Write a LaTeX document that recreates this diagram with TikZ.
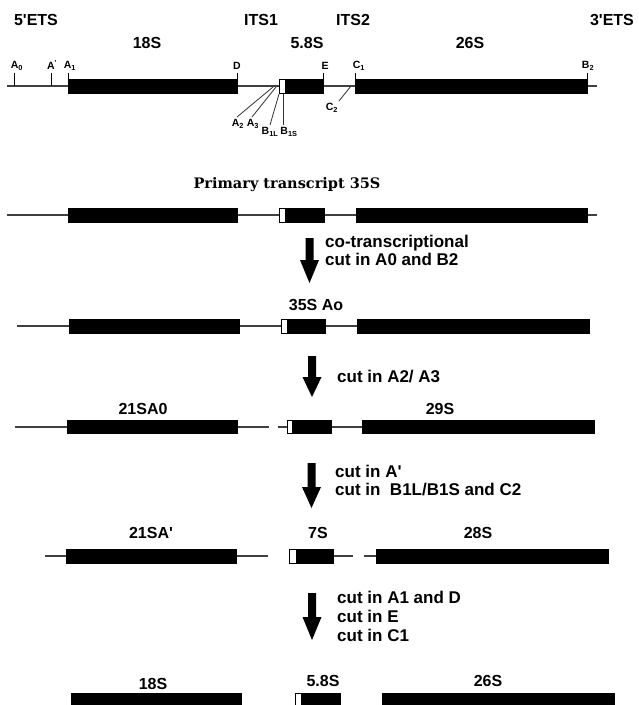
\documentclass[tikz,border=0pt]{standalone}
\usepackage{fontspec}
\setmainfont{Liberation Sans}[Ligatures=TeXOff]
\newfontfamily\titlefont{DejaVu Serif}
\newcommand{\sq}{\char"0027\relax}
\begin{document}
\begin{tikzpicture}[x=1pt,y=-1pt,
  thinline/.style={draw=black!75, line width=1.1pt},
  tickline/.style={draw=black, line width=0.9pt},
  cutline/.style={draw=black!80, line width=0.8pt},
  blk/.style={fill=black, draw=black, line width=0.6pt},
  wht/.style={fill=white, draw=black, line width=0.6pt},
  lbl/.style={font=\fontsize{16}{18}\selectfont\bfseries, inner sep=0pt},
  side/.style={font=\fontsize{17}{18}\selectfont\bfseries, align=left, anchor=west, inner sep=0pt},
  site/.style={font=\fontsize{10.5}{11}\selectfont\bfseries, inner sep=0pt},
  bigarrow/.style={fill=black}]
\useasboundingbox (0,0) rectangle (638,705);
\clip (0,0) rectangle (638,705);

% ---------- top map ----------
\node[lbl] (ets5) at (36,20) {5\sq ETS};
\node[lbl] (its1) at (261,20) {ITS1};
\node[lbl] (its2) at (353,20) {ITS2};
\node[lbl] (ets3) at (612,20) {3\sq ETS};
\node[lbl] (l18) at (147,43) {18S};
\node[lbl] (l58) at (307,43) {5.8S};
\node[lbl] (l26) at (470,43) {26S};

\draw[thinline] (7,86) -- (597,86);
\draw[blk] (68,79) rectangle (237,93);
\draw[wht] (279,79) rectangle (285,93);
\draw[blk] (285,79) rectangle (323,93);
\draw[blk] (355,79) rectangle (587,93);

\draw[tickline] (14,73) -- (14,86);
\draw[tickline] (51,73) -- (51,86);
\draw[tickline] (68,73) -- (68,79);
\draw[tickline] (237,73) -- (237,79);
\draw[tickline] (323,73) -- (323,79);
\draw[tickline] (355,73) -- (355,79);
\draw[tickline] (587,73) -- (587,79);

\node[site] (sA0) at (17,66) {A\textsubscript{0}};
\node[site] (sAp) at (52,65) {A\textsuperscript{\sq}};
\node[site] (sA1) at (70,66) {A\textsubscript{1}};
\node[site] (sD) at (237,66) {D};
\node[site] (sE) at (325,66) {E};
\node[site] (sC1) at (359,66) {C\textsubscript{1}};
\node[site] (sB2) at (588,66) {B\textsubscript{2}};

\node[site] (sA2) at (238,124) {A\textsubscript{2}};
\node[site] (sA3) at (253,124) {A\textsubscript{3}};
\node[site] (sB1L) at (270,132) {B\textsubscript{1L}};
\node[site] (sB1S) at (289,132) {B\textsubscript{1S}};
\node[site] (sC2) at (332,108) {C\textsubscript{2}};

\coordinate (pA2) at (273,87);
\coordinate (pA3) at (276,87);
\coordinate (pB1L) at (279,94);
\coordinate (pB1S) at (283,94);
\coordinate (pC2) at (351,86);
\draw[cutline] (pA2) -- (237,117);
\draw[cutline] (pA3) -- (252,117);
\draw[cutline] (pB1L) -- (270,125);
\draw[cutline] (pB1S) -- (283,125);
\draw[cutline] (pC2) -- (339,101);

% ---------- primary transcript ----------
\node[font=\titlefont\fontsize{14.5}{16}\selectfont\bfseries, inner sep=0pt] (title) at (287,185) {Primary transcript 35S};
\draw[thinline] (7,215) -- (597,215);
\draw[blk] (68,208) rectangle (237,222);
\draw[wht] (279,208) rectangle (285,222);
\draw[blk] (285,208) rectangle (324,222);
\draw[blk] (356,208) rectangle (587,222);

\fill[bigarrow] (305.5,238) -- (313.5,238) -- (313.5,260) -- (319,260) -- (309.5,283) -- (300,260) -- (305.5,260) -- cycle;
\node[side] (t1) at (325,250.5) {co-transcriptional\\cut in A0 and B2};

% ---------- 35S A0 ----------
\node[lbl] (r3) at (316,305) {35S Ao};
\draw[thinline] (17,326) -- (589,326);
\draw[blk] (69,319) rectangle (239,333);
\draw[wht] (281,319) rectangle (287,333);
\draw[blk] (287,319) rectangle (325,333);
\draw[blk] (357,319) rectangle (589,333);

\fill[bigarrow] (308,356) -- (316,356) -- (316,377) -- (321.5,377) -- (312,397) -- (302.5,377) -- (308,377) -- cycle;
\node[side] (t2) at (337,377) {cut in A2/ A3};

% ---------- 21SA0 / 29S ----------
\node[lbl] (r4a) at (143,409) {21SA0};
\node[lbl] (r4b) at (440,409) {29S};
\draw[thinline] (15,427) -- (269,427);
\draw[blk] (67,420) rectangle (237,433);
\draw[thinline] (278,427) -- (362,427);
\draw[wht] (287,420) rectangle (292,433);
\draw[blk] (292,420) rectangle (331,433);
\draw[blk] (362,420) rectangle (594,433);

\fill[bigarrow] (307.5,463) -- (315.5,463) -- (315.5,487) -- (321,487) -- (311.5,508) -- (302,487) -- (307.5,487) -- cycle;
\node[side] (t3) at (335,480.5) {cut in A\sq\\cut in\ \ B1L/B1S and C2};

% ---------- 21SA' / 7S / 28S ----------
\node[lbl] (r5a) at (151,533) {21SA\sq};
\node[lbl] (r5b) at (318,533) {7S};
\node[lbl] (r5c) at (478,533) {28S};
\draw[thinline] (45,556) -- (268,556);
\draw[blk] (66,549) rectangle (236,563);
\draw[thinline] (292,556) -- (353,556);
\draw[wht] (289,549) rectangle (296,563);
\draw[blk] (296,549) rectangle (333,563);
\draw[thinline] (364,556) -- (376,556);
\draw[blk] (376,549) rectangle (608,563);

\fill[bigarrow] (308,593) -- (316,593) -- (316,617) -- (321.5,617) -- (312,640) -- (302.5,617) -- (308,617) -- cycle;
\node[side, font=\fontsize{17}{19}\selectfont\bfseries] (t4) at (337,616) {cut in A1 and D\\cut in E\\cut in C1};

% ---------- mature ----------
\node[lbl] (r6a) at (153,684) {18S};
\node[lbl] (r6b) at (323,681) {5.8S};
\node[lbl] (r6c) at (488,681) {26S};
\draw[blk] (71,693) rectangle (241,708);
\draw[wht] (295,693) rectangle (301,708);
\draw[blk] (301,693) rectangle (340,708);
\draw[blk] (382,693) rectangle (614,708);
\end{tikzpicture}
\end{document}
